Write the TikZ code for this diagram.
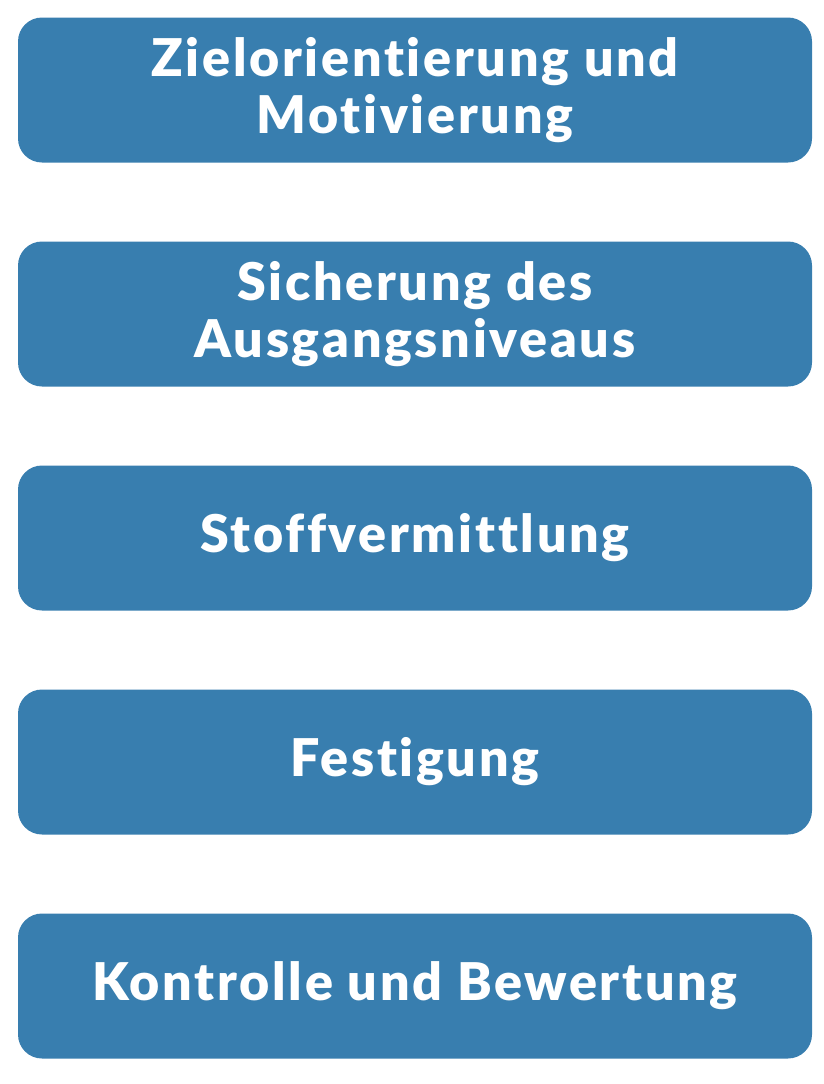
\documentclass[tikz,border=0pt]{standalone}
\usepackage{fontspec}
\setmainfont{Lato}[BoldFont={Lato Black}, Ligatures={NoCommon}, BoldFeatures={LetterSpace=5.2}]
\definecolor{boxblue}{RGB}{56,126,175}
\begin{document}
\begin{tikzpicture}[x=1pt,y=-1pt,
  stage/.style={fill=boxblue, draw=none, rounded corners=24pt, minimum width=794pt, minimum height=145pt,
    text=white, font=\fontsize{52}{57}\selectfont\bfseries, align=center, inner sep=0pt}]
\useasboundingbox (0,0) rectangle (824,1084);
\node[stage] (s1) at (415,90) {Zielorientierung und\\Motivierung};
\node[stage] (s2) at (415,314) {Sicherung des\\Ausgangsniveaus};
\node[stage] (s3) at (415,538) {Stoffvermittlung};
\node[stage] (s4) at (415,762) {Festigung};
\node[stage] (s5) at (415,986) {Kontrolle und Bewertung};
\end{tikzpicture}
\end{document}
